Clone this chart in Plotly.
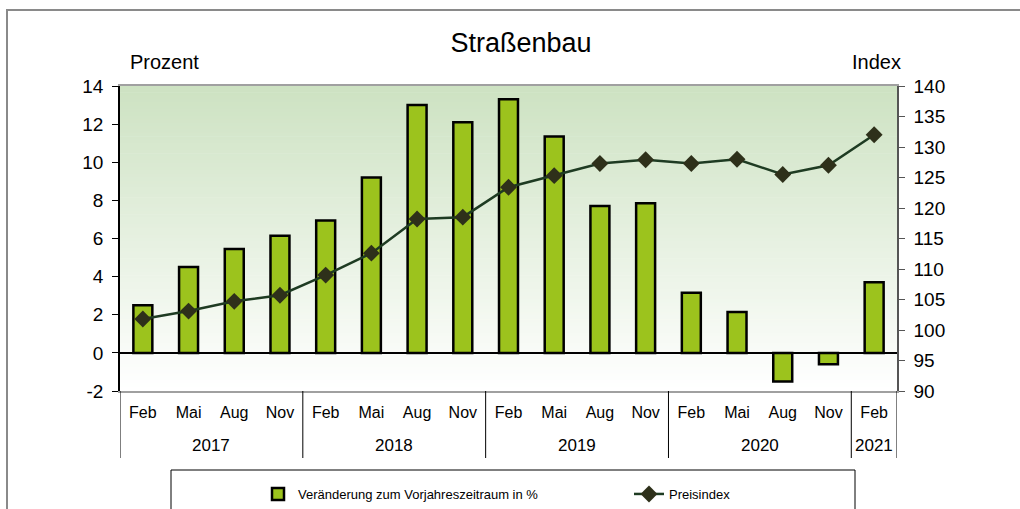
import plotly.graph_objects as go

# ---- data ----
years = ["2017"] * 4 + ["2018"] * 4 + ["2019"] * 4 + ["2020"] * 4 + ["2021"]
months = ["Feb", "Mai", "Aug", "Nov"] * 4 + ["Feb"]
change_pct = [2.5, 4.5, 5.45, 6.15, 6.95, 9.2, 13.0, 12.1, 13.3, 11.35, 7.7, 7.85,
              3.15, 2.15, -1.5, -0.6, 3.7]
price_index = [101.8, 103.1, 104.7, 105.7, 109.0, 112.6, 118.2, 118.5, 123.4, 125.3,
               127.3, 127.9, 127.3, 128.0, 125.5, 127.0, 132.0]
left_ticks = [-2, 0, 2, 4, 6, 8, 10, 12, 14]
right_ticks = [90, 95, 100, 105, 110, 115, 120, 125, 130, 135, 140]

W, H = 1020, 509
ML, MR, MT, MB = 120, 123, 86, 118
PW, PH = W - ML - MR, H - MT - MB
FONT = "Liberation Sans, Arial, sans-serif"


def px_x(x):
    return (x - ML) / PW


def px_y(y):
    return (H - MB - y) / PH


xpos = list(range(len(months)))

fig = go.Figure()
fig.add_trace(go.Bar(
    x=xpos, y=change_pct,
    name="Veränderung zum Vorjahreszeitraum in %",
    marker=dict(color="#9cc31d", line=dict(color="#000000", width=2.5)),
    yaxis="y",
))
fig.add_trace(go.Scatter(
    x=xpos, y=price_index,
    name="Preisindex", mode="lines+markers",
    line=dict(color="#1e3b22", width=2.5),
    marker=dict(symbol="diamond", size=13, color="#2e301a"),
    yaxis="y2",
))

shapes = []
# gradient background of plot area
N = 90
top = (205, 226, 194)
bot = (255, 255, 255)
for i in range(N):
    t = i / (N - 1)
    c = tuple(round(top[k] + (bot[k] - top[k]) * t) for k in range(3))
    shapes.append(dict(type="rect", xref="paper", yref="paper",
                       x0=0, x1=1, y0=1 - (i + 1) / N, y1=1 - i / N + 0.002,
                       fillcolor=f"rgb{c}", line=dict(width=0), layer="below"))

# year group dividers and labels (from the years list)
groups = []
for i, yv in enumerate(years):
    if not groups or groups[-1][0] != yv:
        groups.append([yv, i, i])
    else:
        groups[-1][2] = i
bounds = sorted({g[1] - 0.5 for g in groups} | {g[2] + 0.5 for g in groups})
for b in bounds:
    shapes.append(dict(type="line", xref="x", yref="paper", x0=b, x1=b,
                       y0=0, y1=px_y(458), line=dict(color="#000000", width=1)))
annotations = []
for yv, a, b in groups:
    annotations.append(dict(text=yv, xref="x", yref="paper", x=(a + b) / 2,
                            y=px_y(445), xanchor="center", yanchor="middle",
                            showarrow=False, font=dict(size=17)))

# outer frame
shapes.append(dict(type="rect", xref="paper", yref="paper",
                   x0=px_x(7), x1=px_x(1030), y0=px_y(530), y1=px_y(10),
                   line=dict(color="#8a8a8a", width=2), fillcolor="rgba(0,0,0,0)"))
# legend box
shapes.append(dict(type="rect", xref="paper", yref="paper",
                   x0=px_x(171), x1=px_x(855), y0=px_y(530), y1=px_y(470),
                   line=dict(color="#000000", width=1), fillcolor="rgba(0,0,0,0)"))

annotations += [
    dict(text="Prozent", xref="paper", yref="paper", x=px_x(128), y=px_y(62),
         xanchor="left", yanchor="middle", showarrow=False, font=dict(size=20)),
    dict(text="Index", xref="paper", yref="paper", x=px_x(903), y=px_y(62),
         xanchor="right", yanchor="middle", showarrow=False, font=dict(size=20)),
]

fig.update_layout(
    width=W, height=H,
    margin=dict(l=ML, r=MR, t=MT, b=MB, autoexpand=False),
    paper_bgcolor="white", plot_bgcolor="white",
    font=dict(family=FONT, color="#000000", size=16),
    title=dict(text="Straßenbau", x=521 / W, xanchor="center", y=1 - 43 / H,
               yanchor="middle", font=dict(size=27, family=FONT)),
    bargap=0.585,
    showlegend=True,
    legend=dict(orientation="h", x=px_x(258), xanchor="left", y=px_y(479),
                yanchor="top", bgcolor="rgba(0,0,0,0)",
                font=dict(size=13, family=FONT),
                entrywidth=326, entrywidthmode="pixels"),
    xaxis=dict(range=[-0.5, len(months) - 0.5], tickvals=xpos, ticktext=months,
               showline=True, linecolor="#a0a0a0", linewidth=2, mirror=True,
               ticks="", showgrid=False, zeroline=False, tickfont=dict(size=16),
               ticklabelstandoff=6),
    yaxis=dict(range=[-2, 14], tickvals=left_ticks,
               ticktext=[str(v) for v in left_ticks], showgrid=False,
               showline=True, linecolor="#000000", linewidth=1.5, ticks="outside",
               ticklen=6, tickcolor="#000000", zeroline=True,
               zerolinecolor="#000000", zerolinewidth=1.5,
               tickfont=dict(size=19), ticklabelstandoff=5),
    yaxis2=dict(range=[90, 140], tickvals=right_ticks, overlaying="y", side="right",
                showgrid=False, showline=True, linecolor="#555555", linewidth=1.5,
                ticks="outside", ticklen=6, tickcolor="#555555", zeroline=False,
                tickfont=dict(size=19), ticklabelstandoff=5),
    yaxis3=dict(range=[-2, 14], tickvals=left_ticks, overlaying="y", side="left",
                showgrid=False, showline=False, ticks="inside", ticklen=5,
                tickcolor="#000000", showticklabels=False, zeroline=False),
    yaxis4=dict(range=[90, 140], tickvals=right_ticks, overlaying="y", side="right",
                showgrid=False, showline=False, ticks="inside", ticklen=5,
                tickcolor="#555555", showticklabels=False, zeroline=False),
    shapes=shapes,
    annotations=annotations,
)

fig.write_html("out.html", config={"displayModeBar": False},
               post_script="document.body.style.margin='0px';")
